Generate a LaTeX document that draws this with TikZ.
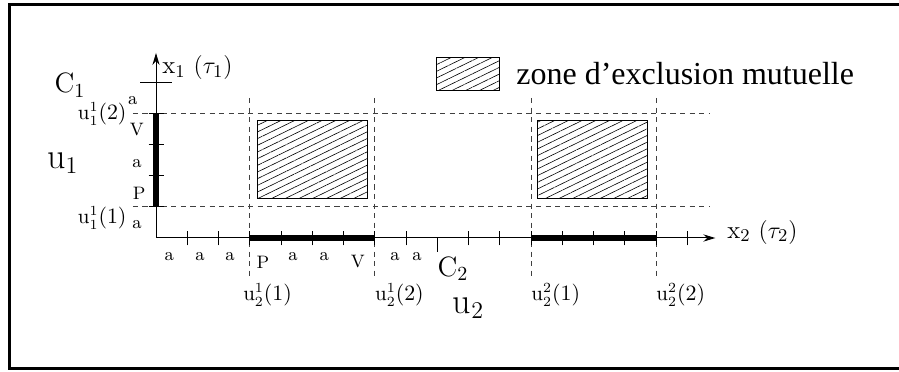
\documentclass[tikz,border=0pt]{standalone}
\usepackage{fontspec}
\usepackage{amsmath}
\usetikzlibrary{
arrows.meta,
positioning,
patterns.meta
}
\newfontfamily\legendfont{Liberation Serif}

\begin{document}
\begin{tikzpicture}[
x=15.625pt, y=15.6pt,
arrow/.style={-{Stealth[length=6pt,width=3.6pt]},line width=0.5pt},
busy/.style={line width=2.6pt},
tickmark/.style={line width=0.4pt},
guide/.style={dash pattern=on 2.6pt off 2.2pt, line width=0.4pt, black!75},
zone/.style={
draw,
line width=0.5pt,
pattern={Lines[angle=26,distance=3pt,line width=0.3pt]}
},
small/.style={font=\fontsize{9}{10}\selectfont, inner sep=0pt},
bound/.style={font=\fontsize{10.5}{12}\selectfont, inner sep=0pt},
axislabel/.style={font=\fontsize{12.5}{14}\selectfont, inner sep=0pt},
proc/.style={font=\fontsize{14}{16}\selectfont, inner sep=0pt},
big/.style={font=\fontsize{18}{20}\selectfont, inner sep=0pt}
]

\useasboundingbox (-4.992,-4.263) rectangle (23.776,7.628);
\draw[line width=1.5pt] (24.2,7.48) -- (-4.70,7.48) -- (-4.70,-4.17) -- (24.2,-4.17);

\coordinate (O) at (0,0);
\coordinate (xend) at (17.9,0);
\coordinate (yend) at (0,5.93);

\foreach \x in {3,7,12,16}
  \draw[guide] (\x,4.49) -- (\x,-1.25);
\foreach \y in {1,4}
  \draw[guide] (-0.74,\y) -- (17.73,\y);

\draw[zone] (3.26,1.25) rectangle (6.78,3.75);
\draw[zone] (12.22,1.25) rectangle (15.74,3.75);

\foreach \k in {1,...,8,10,11,...,17}
  \draw[tickmark] (\k,-0.24) -- (\k,0.24);
\foreach \k in {1,...,4}
  \draw[tickmark] (-0.24,\k) -- (0.24,\k);
\draw[tickmark] (9,0) -- (9,-0.45);
\draw[tickmark] (-0.5,5) -- (0.5,5);

\draw[busy] (3,0) -- (7,0);
\draw[busy] (12,0) -- (16,0);
\draw[busy] (0,1) -- (0,4);

\draw[arrow] (O) -- (xend);
\draw[arrow] (O) -- (yend);

\node[axislabel, anchor=west] (xone) at (0.19,5.45) {$\mathrm{x}_1~(\tau_1)$};
\node[axislabel, anchor=west] (xtwo) at (18.27,0.19) {$\mathrm{x}_2~(\tau_2)$};

\draw[zone] (8.99,4.74) rectangle (11.0,5.77);
\node[anchor=west, inner sep=0pt, font=\legendfont\fontsize{16}{18}\selectfont] (legend) at (11.52,5.26) {zone d’exclusion mutuelle};

\node[proc] (cone) at (-2.75,4.9) {$\mathrm{C}_1$};
\node[big] (uone) at (-2.98,2.40) {$\mathrm{u}_1$};
\node[proc, anchor=west] (ctwo) at (9.0,-0.98) {$\mathrm{C}_2$};
\node[big] (utwo) at (10.0,-2.24) {$\mathrm{u}_2$};

\node[bound, anchor=east] (ua) at (-0.93,3.97) {$\mathrm{u}_1^1(2)$};
\node[bound, anchor=east] (ub) at (-0.93,0.64) {$\mathrm{u}_1^1(1)$};
\node[bound, anchor=west] (uc) at (2.78,-1.83) {$\mathrm{u}_2^1(1)$};
\node[bound, anchor=west] (ud) at (7.0,-1.83) {$\mathrm{u}_2^1(2)$};
\node[bound, anchor=west] (ue) at (12.0,-1.83) {$\mathrm{u}_2^2(1)$};
\node[bound, anchor=west] (uf) at (16.0,-1.83) {$\mathrm{u}_2^2(2)$};

\node[small] at (-0.74,4.42) {a};
\node[small] at (-0.61,3.46) {V};
\node[small] at (-0.61,2.40) {a};
\node[small] at (-0.54,1.44) {P};
\node[small] at (-0.61,0.42) {a};

\foreach \x in {0.42,1.41,2.37,4.38,5.38,7.65,8.35}
  \node[small] at (\x,-0.61) {a};
\node[small] at (3.42,-0.77) {P};
\node[small] at (6.46,-0.77) {V};

\end{tikzpicture}
\end{document}
